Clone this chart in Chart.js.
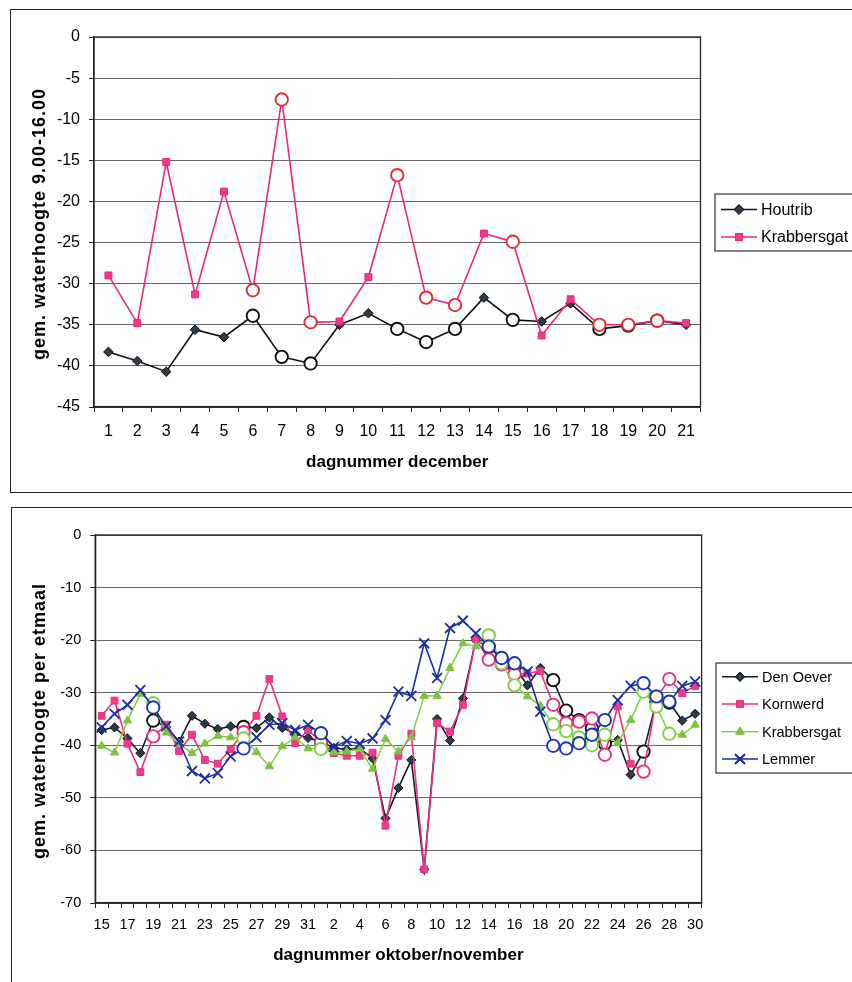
<!DOCTYPE html>
<html><head><meta charset="utf-8">
<script src="https://cdn.jsdelivr.net/npm/chart.js@4/dist/chart.umd.min.js"></script>
<style>
html,body{margin:0;padding:0;background:#fff;width:852px;height:982px;overflow:hidden;position:relative;}
.box{position:absolute;border:1.5px solid #222;box-sizing:border-box;}
#w1{position:absolute;left:0;top:0;width:852px;height:495px;}
#w2{position:absolute;left:0;top:500px;width:852px;height:482px;}
</style></head><body>
<div class="box" style="left:10px;top:9px;width:900px;height:484px;"></div>
<div class="box" style="left:11px;top:507px;width:900px;height:500px;"></div>
<div id="w1"><canvas id="c1"></canvas></div>
<div id="w2"><canvas id="c2"></canvas></div>
<script>
// ---------- DATA: top chart (december) ----------
const decDays = ['1','2','3','4','5','6','7','8','9','10','11','12','13','14','15','16','17','18','19','20','21'];
const houtrib = [-38.3,-39.4,-40.7,-35.6,-36.5,-33.9,-38.9,-39.7,-35.0,-33.6,-35.5,-37.1,-35.5,-31.7,-34.4,-34.6,-32.4,-35.5,-35.1,-34.5,-35.0];
const krabbersgatDec = [-29.0,-34.8,-15.2,-31.3,-18.8,-30.8,-7.6,-34.7,-34.6,-29.2,-16.8,-31.7,-32.6,-23.9,-24.9,-36.3,-31.9,-35.0,-35.0,-34.5,-34.8];
const decOpenDays = ['6','7','8','11','12','13','15','18','19','20'];
const decTicks = [0,-5,-10,-15,-20,-25,-30,-35,-40,-45];

// ---------- DATA: bottom chart (oktober/november) ----------
const octNovDays = ['15','16','17','18','19','20','21','22','23','24','25','26','27','28','29','30','31',
  '1','2','3','4','5','6','7','8','9','10','11','12','13','14','15','16','17','18','19','20','21','22','23','24','25','26','27','28','29','30'];
const denOever = [-37.1,-36.6,-38.7,-41.5,-35.3,-36.5,-39.3,-34.4,-35.9,-36.9,-36.4,-36.5,-36.7,-34.7,-36.7,-37.8,-38.6,
  -39.3,-40.5,-40.8,-40.6,-42.5,-53.9,-48.1,-42.8,-63.6,-35.0,-39.1,-31.1,-20.0,-21.3,-23.5,-25.0,-28.6,-25.3,-27.6,-33.4,-35.2,-36.8,-39.7,-39.0,-45.6,-41.2,-31.6,-31.9,-35.3,-34.0];
const kornwerd = [-34.4,-31.5,-39.7,-45.1,-38.3,-36.1,-41.1,-38.0,-42.8,-43.5,-40.7,-37.5,-34.4,-27.4,-34.5,-39.6,-37.1,
  -39.4,-41.5,-42.0,-42.0,-41.4,-55.3,-42.0,-37.8,-63.6,-35.8,-37.4,-32.3,-19.8,-23.7,-24.6,-26.5,-26.3,-25.9,-32.3,-35.8,-35.5,-34.9,-41.8,-32.6,-43.5,-45.0,-31.0,-27.4,-30.1,-28.7];
const krabbersgatON = [-40.1,-41.4,-35.3,-30.2,-32.0,-37.6,-39.7,-41.5,-39.7,-38.2,-38.5,-38.7,-41.3,-44.0,-40.2,-38.5,-40.6,
  -40.7,-41.3,-41.2,-40.7,-44.5,-38.8,-41.2,-38.5,-30.6,-30.6,-25.3,-20.6,-21.2,-19.1,-24.4,-28.6,-30.7,-32.5,-36.0,-37.3,-38.5,-40.0,-38.0,-39.6,-35.2,-29.8,-32.6,-37.8,-38.0,-36.1];
const lemmer = [-36.6,-34.0,-32.3,-29.5,-32.8,-36.4,-39.3,-44.9,-46.3,-45.3,-42.1,-40.6,-38.5,-36.1,-35.8,-37.1,-36.1,
  -37.7,-40.3,-39.2,-39.7,-38.7,-35.2,-29.8,-30.6,-20.6,-27.2,-17.7,-16.3,-18.7,-21.2,-23.4,-24.4,-26.0,-33.6,-40.1,-40.6,-39.6,-38.0,-35.2,-31.4,-28.7,-28.2,-30.7,-31.7,-28.7,-27.9];
const octNovOpenIdx = [4,11,17,30,31,32,35,36,37,38,39,42,43,44];
const octNovTicks = [0,-10,-20,-30,-40,-50,-60,-70];

// ---------- helpers ----------
const FONT = "'Liberation Sans', Arial, Helvetica, sans-serif";
Chart.defaults.font.family = FONT;
Chart.defaults.color = '#000';

function series(label, values, isOpen, st, order) {
  return {
    label, data: values, order,
    borderColor: st.line, borderWidth: 1.6, tension: 0, fill: false,
    pointStyle: values.map((v,i)=> isOpen(i) ? 'circle' : st.style),
    pointRadius: values.map((v,i)=> isOpen(i) ? 6.2 : st.r),
    pointHoverRadius: values.map((v,i)=> isOpen(i) ? 6.2 : st.r),
    pointBackgroundColor: values.map((v,i)=> isOpen(i) ? '#ffffff' : st.fill),
    pointBorderColor: values.map((v,i)=> isOpen(i) ? st.circle : st.mark),
    pointBorderWidth: values.map((v,i)=> isOpen(i) ? 1.9 : st.bw),
    legendMark: st
  };
}

function drawMark(ctx, st, x, y) {
  ctx.save();
  ctx.fillStyle = st.fill; ctx.strokeStyle = st.mark; ctx.lineWidth = st.bw;
  if (Chart.helpers && Chart.helpers.drawPoint) {
    Chart.helpers.drawPoint(ctx, {pointStyle: st.style, radius: st.r, rotation: 0, borderWidth: st.bw}, x, y);
    if (st.style !== 'crossRot') ctx.fill();
    ctx.stroke();
  }
  ctx.restore();
}

const decor = {
  id: 'decor',
  beforeDatasetsDraw(chart) {
    const {ctx, chartArea: a} = chart;
    ctx.save();
    ctx.strokeStyle = '#222'; ctx.lineWidth = 1.3;
    ctx.strokeRect(a.left, a.top, a.right - a.left, a.bottom - a.top);
    ctx.restore();
  },
  afterDraw(chart, args, o) {
    const ctx = chart.ctx;
    const a = chart.chartArea;
    ctx.save();
    // rotated y-axis title with slight letter spacing
    ctx.translate(o.yTitleX, (a.top + a.bottom) / 2 + 2);
    ctx.rotate(-Math.PI / 2);
    ctx.font = 'bold ' + o.yTitleSize + 'px ' + FONT;
    try { ctx.letterSpacing = '1px'; } catch (e) {}
    ctx.textAlign = 'center'; ctx.textBaseline = 'middle'; ctx.fillStyle = '#000';
    ctx.fillText(o.yTitle, 0, 0);
    ctx.restore();

    ctx.save();
    ctx.strokeStyle = '#333'; ctx.lineWidth = 1.2;
    ctx.strokeRect(o.left, o.top, 300, o.bottom - o.top);
    ctx.font = o.size + 'px ' + FONT;
    ctx.textBaseline = 'middle'; ctx.textAlign = 'left'; ctx.fillStyle = '#000';
    chart.data.datasets.forEach((ds, i) => {
      const y = o.rows[i];
      ctx.strokeStyle = ds.borderColor; ctx.lineWidth = 1.6;
      ctx.beginPath(); ctx.moveTo(o.x1, y); ctx.lineTo(o.x2, y); ctx.stroke();
      drawMark(ctx, ds.legendMark, (o.x1 + o.x2) / 2, y);
      ctx.fillStyle = '#000';
      ctx.fillText(ds.label, o.tx, y + 1);
    });
    ctx.restore();
  }
};

function yScale(min, max, ticksList, size, pad, width) {
  return {
    min, max,
    afterBuildTicks(s){ s.ticks = ticksList.map(v => ({value: v})); },
    ticks: {font: {size}, color: '#000', padding: pad},
    grid: {color: '#666', lineWidth: 1, tickLength: 5, drawTicks: true, tickColor: '#222'},
    border: {display: true, color: '#222', width: 1.3},
    title: {display: false},
    afterFit(s){ s.width = width; }
  };
}
function xScale(title, size, pad, tbot, height, skipOdd) {
  return {
    type: 'category', offset: true,
    grid: {display: true, drawOnChartArea: false, drawTicks: true, tickLength: 5, color: '#222', offset: true},
    border: {display: true, color: '#222', width: 1.3},
    ticks: {font: {size}, color: '#000', padding: pad, maxRotation: 0, minRotation: 0, autoSkip: false,
      callback(v, i){ const l = this.getLabelForValue(v); return (skipOdd && i % 2) ? '' : l; }},
    title: {display: true, text: title, font: {size: 17, weight: 'bold'}, color: '#000', padding: {top: 0, bottom: tbot}},
    afterFit(s){ s.height = height; }
  };
}

// ---------- top chart ----------
const stHout = {style: 'rectRot', r: 4.8, fill: '#2e3b48', mark: '#111', bw: 1, line: '#111', circle: '#111'};
const stKrabD = {style: 'rect', r: 4.9, fill: '#ee3b8c', mark: '#e8287c', bw: 1, line: '#e8287c', circle: '#e52a35'};
const decOpen = i => decOpenDays.includes(decDays[i]);

new Chart(document.getElementById('c1'), {
  type: 'line',
  data: {
    labels: decDays,
    datasets: [
      series('Houtrib', houtrib, decOpen, stHout, 2),
      series('Krabbersgat', krabbersgatDec, decOpen, stKrabD, 1)
    ]
  },
  options: {
    responsive: true, maintainAspectRatio: false, animation: false, devicePixelRatio: 1,
    layout: {padding: {left: 14, right: 151.5, top: 37, bottom: 18}},
    plugins: {legend: {display: false}, tooltip: {enabled: false},
      decor: {left: 715, top: 194, bottom: 251, x1: 721, x2: 757, tx: 761, size: 16, rows: [209.5, 237],
        yTitle: 'gem. waterhoogte 9.00-16.00', yTitleX: 40, yTitleSize: 18}},
    scales: {
      x: xScale('dagnummer december', 16, 9.5, 4, 70, false),
      y: yScale(-45, 0, decTicks, 16, 9, 80)
    }
  },
  plugins: [decor]
});

// ---------- bottom chart ----------
const stDen = {style: 'rectRot', r: 4.6, fill: '#2b3a48', mark: '#111', bw: 1, line: '#151a26', circle: '#111'};
const stKorn = {style: 'rect', r: 4.8, fill: '#ee3b8c', mark: '#e8307f', bw: 1, line: '#e8307f', circle: '#e8307f'};
const stKrab = {style: 'triangle', r: 4.8, fill: '#7dc242', mark: '#7dc242', bw: 1, line: '#8bd04a', circle: '#86cf45'};
const stLem = {style: 'crossRot', r: 7, fill: '#1a2fa0', mark: '#1a2fa0', bw: 1.8, line: '#1a2fa0', circle: '#1d35b0'};
const onOpen = i => octNovOpenIdx.includes(i);

new Chart(document.getElementById('c2'), {
  type: 'line',
  data: {
    labels: octNovDays,
    datasets: [
      series('Den Oever', denOever, onOpen, stDen, 4),
      series('Kornwerd', kornwerd, onOpen, stKorn, 3),
      series('Krabbersgat', krabbersgatON, onOpen, stKrab, 2),
      series('Lemmer', lemmer, onOpen, stLem, 1)
    ]
  },
  options: {
    responsive: true, maintainAspectRatio: false, animation: false, devicePixelRatio: 1,
    layout: {padding: {left: 15, right: 150.4, top: 35, bottom: 9}},
    plugins: {legend: {display: false}, tooltip: {enabled: false},
      decor: {left: 716, top: 163, bottom: 273, x1: 722, x2: 758, tx: 762, size: 14.5, rows: [176.7, 204, 231.7, 259],
        yTitle: 'gem. waterhoogte per etmaal', yTitleX: 40, yTitleSize: 18}},
    scales: {
      x: xScale('dagnummer oktober/november', 14.5, 8, 7, 70, true),
      y: yScale(-70, 0, octNovTicks, 14.5, 9, 80.2)
    }
  },
  plugins: [decor]
});
</script>
</body></html>
